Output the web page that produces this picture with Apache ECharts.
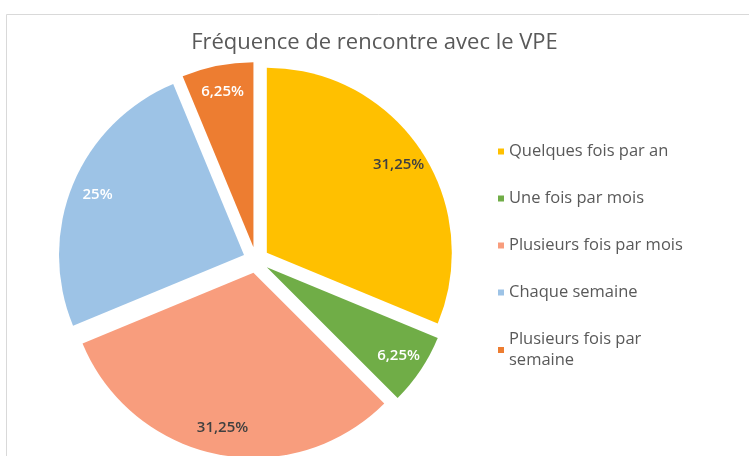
<!DOCTYPE html>
<html>
<head>
<meta charset="utf-8">
<script src="https://cdn.jsdelivr.net/npm/echarts@6/dist/echarts.min.js"></script>
<style>
  html, body { margin: 0; padding: 0; background: #fff; }
  #chart { width: 749px; height: 456px; }
</style>
</head>
<body>
<div id="chart"></div>
<script>
// data
const titleText = 'Fréquence de rencontre avec le VPE'
const categories = [
  'Quelques fois par an',
  'Une fois par mois',
  'Plusieurs fois par mois',
  'Chaque semaine',
  'Plusieurs fois par semaine'
]
const values = [31.25, 6.25, 31.25, 25, 6.25]
const labels = ['31,25%', '6,25%', '31,25%', '25%', '6,25%']

const colors = ['#FFC000', '#70AD47', '#F89D7D', '#9DC3E6', '#ED7D31']
const labelColors = ['#404040', '#ffffff', '#404040', '#ffffff', '#ffffff']

const FONT = '"Open Sans", sans-serif'
const CENTER = [256, 260]
const R = 185
const OFFSET = 13

const chart = echarts.init(document.getElementById('chart'))

const pieData = categories.map((name, i) => ({
  name,
  value: values[i],
  selected: true,
  itemStyle: { color: colors[i] }
}))

// overlay series only used to place labels near the rim
const labelData = categories.map((name, i) => ({
  name,
  value: values[i],
  selected: true,
  label: { color: labelColors[i], formatter: labels[i] }
}))

const option = {
  animation: false,
  title: {
    text: titleText,
    left: 'center',
    top: 27,
    textStyle: { fontFamily: FONT, fontSize: 22, fontWeight: 'normal', color: '#595959' }
  },
  legend: {
    orient: 'vertical',
    left: 493,
    top: 136,
    icon: 'rect',
    itemWidth: 6,
    itemHeight: 6,
    itemGap: 26,
    selectedMode: false,
    data: categories,
    formatter: name => name === 'Plusieurs fois par semaine' ? 'Plusieurs fois par\nsemaine' : name,
    textStyle: { fontFamily: FONT, fontSize: 16.5, lineHeight: 21, color: '#595959' }
  },
  graphic: [{
    type: 'rect',
    shape: { x: 6.5, y: 14.5, width: 900, height: 600 },
    style: { fill: 'none', stroke: '#D9D9D9', lineWidth: 1 },
    silent: true,
    z: -1
  }],
  series: [
    {
      type: 'pie',
      center: CENTER,
      radius: [0, R],
      startAngle: 90,
      selectedMode: 'multiple',
      selectedOffset: OFFSET,
      data: pieData,
      label: { show: false },
      labelLine: { show: false },
      emphasis: { disabled: true },
      itemStyle: { borderWidth: 0 }
    },
    {
      type: 'pie',
      center: CENTER,
      radius: [126, R],
      startAngle: 90,
      selectedMode: 'multiple',
      selectedOffset: OFFSET,
      silent: true,
      data: labelData,
      itemStyle: { color: 'rgba(0,0,0,0)' },
      label: {
        show: true,
        position: 'inside',
        fontFamily: FONT,
        fontSize: 15,
        fontWeight: 600
      },
      labelLine: { show: false },
      emphasis: { disabled: true }
    }
  ]
}

chart.setOption(option)
</script>
</body>
</html>
